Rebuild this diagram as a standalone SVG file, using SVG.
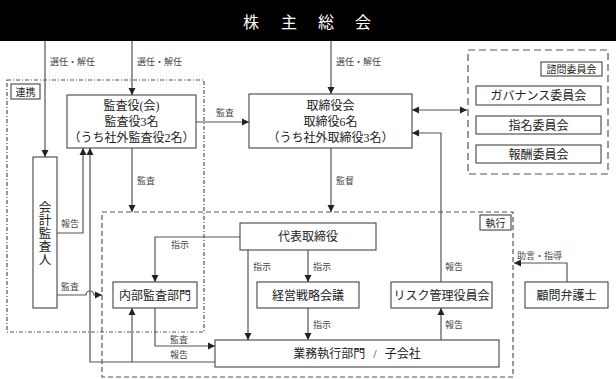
<svg xmlns="http://www.w3.org/2000/svg" width="616" height="379" viewBox="0 0 616 379">
<defs>
<marker id="ah" markerUnits="userSpaceOnUse" markerWidth="8" markerHeight="8" refX="7" refY="4" orient="auto-start-reverse">
<path d="M0,0.5 L7,4 L0,7.5 z" fill="#222"/>
</marker>
<style>
text{font-family:"Liberation Serif","Noto Sans CJK JP",serif;}
.box{fill:#fff;stroke:#444;stroke-width:1.1;}
.bt{font-size:12px;fill:#222;text-anchor:middle;}
.lb{font-size:9px;fill:#444;}
.tag{font-size:10px;fill:#222;text-anchor:middle;}
.ln{fill:none;stroke:#555;stroke-width:1.2;}
.ar{marker-end:url(#ah);}
.grp{fill:none;stroke:#555;stroke-width:1.2;}
</style>
</defs>
<rect width="616" height="379" fill="#fff"/>

<g id="shareholders">
<rect x="0" y="0" width="616" height="41" fill="#000"/>
<text x="243 262 281 300 318 337 355" y="28" style="font-size:16px;fill:#fff;">株 主 総 会</text>
</g>

<g id="group-renkei">
<rect class="grp" x="7" y="80" width="197" height="252" stroke-dasharray="4 2 1 2"/>
<rect class="box" x="11" y="84" width="29" height="15"/>
<text class="tag" x="25.5" y="95.5">連携</text>
</g>

<g id="group-shikkou">
<rect class="grp" x="102" y="212" width="411" height="165" stroke-dasharray="5 3"/>
<rect class="box" x="480" y="215" width="31" height="15"/>
<text class="tag" x="495.5" y="226.5">執行</text>
</g>

<g id="group-shimon">
<rect class="grp" x="468" y="50" width="140" height="124" stroke-dasharray="7 4"/>
<rect class="box" x="541" y="62" width="61" height="14"/>
<text class="tag" x="571.5" y="73">諮問委員会</text>
</g>

<g id="connectors">
<path class="ln ar" d="M45,41 V157"/>
<path class="ln ar" d="M132,41 V95"/>
<path class="ln ar" d="M331,41 V94"/>
<path class="ln ar" d="M196,122 H249"/>
<path class="ln ar" d="M132,148 V212"/>
<path class="ln ar" d="M331,148 V212"/>
<path class="ln ar" d="M412,110 H467" marker-start="url(#ah)"/>
<path class="ln ar" d="M57,233 H83 V148"/>
<path class="ln ar" d="M57,295 H86 A4,4 0 0 1 94,295 H102"/>
<path class="ln ar" d="M215,362 H90 V148"/>
<path class="ln ar" d="M132,362 V308"/>
<path class="ln ar" d="M155,308 V346 H215"/>
<path class="ln ar" d="M240,237 H155 V282"/>
<path class="ln ar" d="M248,250 V340"/>
<path class="ln ar" d="M308,250 V282"/>
<path class="ln ar" d="M308,308 V340"/>
<path class="ln ar" d="M441,340 V308"/>
<path class="ln ar" d="M441,282 V133 H412"/>
<path class="ln ar" d="M567,282 V263 H514"/>
<text class="lb" x="50" y="65">選任・解任</text>
<text class="lb" x="137" y="65">選任・解任</text>
<text class="lb" x="336" y="65">選任・解任</text>
<text class="lb" x="216" y="116">監査</text>
<text class="lb" x="137" y="184">監査</text>
<text class="lb" x="336" y="184">監督</text>
<text class="lb" x="61" y="227">報告</text>
<text class="lb" x="61" y="290">監査</text>
<text class="lb" x="171" y="248">指示</text>
<text class="lb" x="253" y="270">指示</text>
<text class="lb" x="313" y="270">指示</text>
<text class="lb" x="313" y="328">指示</text>
<text class="lb" x="445" y="270">報告</text>
<text class="lb" x="445" y="328">報告</text>
<text class="lb" x="170" y="343">監査</text>
<text class="lb" x="170" y="358">報告</text>
<text class="lb" x="517" y="259">助言・指導</text>
</g>

<g id="kansayaku">
<rect class="box" x="67" y="95" width="129" height="53"/>
<text class="bt" x="131.5" y="110">監査役(会)</text>
<text class="bt" x="131.5" y="126">監査役3名</text>
<text class="bt" x="131.5" y="142">（うち社外監査役2名）</text>
</g>

<g id="torishimariyakukai">
<rect class="box" x="249" y="94" width="163" height="54"/>
<text class="bt" x="330.5" y="110">取締役会</text>
<text class="bt" x="330.5" y="126">取締役6名</text>
<text class="bt" x="330.5" y="142">（うち社外取締役3名）</text>
</g>

<g id="governance">
<rect class="box" x="476" y="86" width="125" height="19"/>
<text class="bt" x="538.5" y="100">ガバナンス委員会</text>
</g>
<g id="shimei">
<rect class="box" x="476" y="116" width="125" height="18"/>
<text class="bt" x="538.5" y="129.5">指名委員会</text>
</g>
<g id="houshu">
<rect class="box" x="476" y="145" width="125" height="18"/>
<text class="bt" x="538.5" y="158.5">報酬委員会</text>
</g>

<g id="kaikei">
<rect class="box" x="33" y="157" width="24" height="151"/>
<text class="bt" style="font-size:12.5px"><tspan x="45" y="212">会</tspan><tspan x="45" y="225">計</tspan><tspan x="45" y="238">監</tspan><tspan x="45" y="251">査</tspan><tspan x="45" y="264">人</tspan></text>
</g>

<g id="daihyou">
<rect class="box" x="240" y="223" width="136" height="27"/>
<text class="bt" x="308" y="241">代表取締役</text>
</g>

<g id="naibu">
<rect class="box" x="113" y="282" width="84" height="26"/>
<text class="bt" x="155" y="299.5">内部監査部門</text>
</g>

<g id="keiei">
<rect class="box" x="257" y="282" width="102" height="26"/>
<text class="bt" x="308" y="299.5">経営戦略会議</text>
</g>

<g id="risk">
<rect class="box" x="391" y="282" width="101" height="26"/>
<text class="bt" x="441.5" y="299.5">リスク管理役員会</text>
</g>

<g id="gyoumu">
<rect class="box" x="215" y="340" width="284" height="27"/>
<text class="bt" x="357" y="358" style="word-spacing:5px">業務執行部門 / 子会社</text>
</g>

<g id="komon">
<rect class="box" x="525" y="282" width="83" height="26"/>
<text class="bt" x="566.5" y="299.5">顧問弁護士</text>
</g>
</svg>
